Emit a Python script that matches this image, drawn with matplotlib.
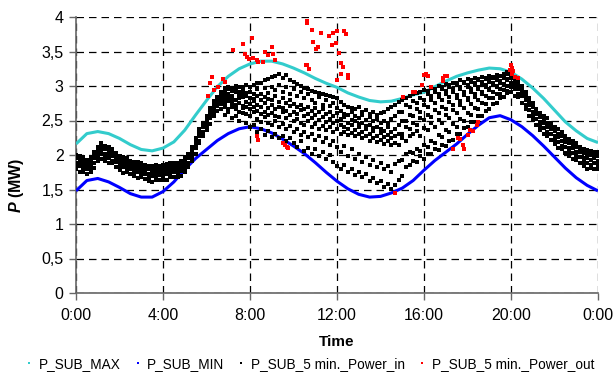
import numpy as np
import matplotlib
matplotlib.use("Agg")
import matplotlib.pyplot as plt
from matplotlib.lines import Line2D

plt.rcParams["font.family"] = ["Liberation Sans", "DejaVu Sans"]
plt.rcParams["mathtext.fontset"] = "custom"
plt.rcParams["mathtext.rm"] = "Liberation Sans"
plt.rcParams["mathtext.bf"] = "Liberation Sans:bold"
plt.rcParams["mathtext.bfit"] = "Liberation Sans:italic:bold"

_CYAN = "#33CCCC"
_BLUE = "#0000FF"
_RED = "#FF0000"

# P_SUB_MAX / P_SUB_MIN, every 30 min, MW
curve_hours = np.arange(0, 24.01, 0.5)
p_max = [2.16, 2.31, 2.34, 2.31, 2.24, 2.15, 2.08, 2.06, 2.10, 2.19,
         2.36, 2.58, 2.79, 2.99, 3.14, 3.25, 3.32, 3.36, 3.36, 3.32,
         3.26, 3.19, 3.11, 3.04, 2.98, 2.90, 2.84, 2.79, 2.77, 2.78,
         2.82, 2.87, 2.91, 2.99, 3.07, 3.14, 3.19, 3.23, 3.26, 3.25,
         3.20, 3.10, 2.97, 2.82, 2.65, 2.48, 2.35, 2.24, 2.18]
p_min = [1.48, 1.63, 1.66, 1.61, 1.53, 1.44, 1.39, 1.39, 1.47, 1.61,
         1.79, 1.95, 2.08, 2.21, 2.31, 2.38, 2.41, 2.38, 2.32, 2.23,
         2.13, 2.02, 1.89, 1.75, 1.62, 1.51, 1.43, 1.39, 1.40, 1.45,
         1.52, 1.63, 1.78, 1.92, 2.04, 2.16, 2.30, 2.43, 2.54, 2.57,
         2.51, 2.41, 2.28, 2.13, 1.97, 1.81, 1.67, 1.56, 1.48]

# P_SUB_5 min._Power_in, read per 10-minute column (several days overlaid)
in_hours = np.arange(0, 1441, 10) / 60
in_values = [
    # 0:00 - 6:40, narrow band
    [1.79, 1.84, 1.89, 1.95, 2.00], [1.76, 1.84, 1.90, 1.94, 1.99],
    [1.76, 1.80, 1.86, 1.92, 1.97], [1.73, 1.80, 1.86, 1.91, 1.93],
    [1.75, 1.80, 1.85, 1.91, 1.96], [1.81, 1.89, 1.95, 1.99, 2.04],
    [1.91, 1.95, 2.01, 2.07, 2.12], [1.94, 2.01, 2.07, 2.12, 2.17],
    [1.92, 1.97, 2.02, 2.08, 2.13], [1.88, 1.96, 2.02, 2.06, 2.11],
    [1.88, 1.92, 1.98, 2.04, 2.09], [1.83, 1.90, 1.96, 2.01, 2.03],
    [1.78, 1.83, 1.88, 1.94, 1.99], [1.74, 1.82, 1.88, 1.92, 1.97],
    [1.75, 1.79, 1.85, 1.91, 1.96], [1.72, 1.79, 1.85, 1.90, 1.92],
    [1.69, 1.74, 1.79, 1.85, 1.90], [1.67, 1.75, 1.81, 1.85, 1.90],
    [1.68, 1.72, 1.78, 1.84, 1.89], [1.65, 1.72, 1.78, 1.83, 1.85],
    [1.63, 1.68, 1.73, 1.79, 1.84], [1.61, 1.69, 1.75, 1.79, 1.84],
    [1.64, 1.68, 1.74, 1.80, 1.85], [1.64, 1.71, 1.77, 1.82, 1.84],
    [1.64, 1.69, 1.74, 1.80, 1.85], [1.64, 1.72, 1.78, 1.82, 1.87],
    [1.68, 1.72, 1.78, 1.84, 1.89], [1.68, 1.75, 1.81, 1.86, 1.88],
    [1.68, 1.73, 1.78, 1.84, 1.89], [1.69, 1.77, 1.83, 1.87, 1.92],
    [1.76, 1.80, 1.86, 1.92, 1.97], [1.82, 1.89, 1.95, 2.00, 2.02],
    [1.91, 1.96, 2.01, 2.07, 2.12], [2.02, 2.10, 2.16, 2.20, 2.25],
    [2.17, 2.21, 2.27, 2.33, 2.38], [2.27, 2.34, 2.40, 2.45, 2.47],
    [2.36, 2.41, 2.46, 2.52, 2.57], [2.45, 2.53, 2.59, 2.63, 2.68],
    [2.57, 2.61, 2.67, 2.73, 2.78], [2.64, 2.71, 2.77, 2.82, 2.84],
    [2.67, 2.74, 2.79, 2.86, 2.92],
    # 6:50 - 19:50, wide spread
    [2.58, 2.70, 2.76, 2.81, 2.87, 2.91, 2.97], [2.62, 2.67, 2.78, 2.83, 2.88, 2.95, 2.99],
    [2.53, 2.69, 2.74, 2.80, 2.86, 2.93, 2.97], [2.57, 2.66, 2.72, 2.79, 2.91, 2.96, 3.00],
    [2.50, 2.63, 2.75, 2.82, 2.88, 2.92, 2.98], [2.61, 2.68, 2.71, 2.84, 2.89, 2.94, 2.99],
    [2.47, 2.59, 2.70, 2.77, 2.85, 2.90, 3.01], [2.40, 2.57, 2.66, 2.74, 2.83, 2.92, 2.98],
    [2.44, 2.62, 2.69, 2.78, 2.81, 2.89, 3.02], [2.33, 2.52, 2.64, 2.72, 2.86, 2.95, 3.05],
    [2.38, 2.48, 2.60, 2.70, 2.79, 2.88, 3.04], [2.29, 2.55, 2.63, 2.76, 2.84, 2.97, 3.08],
    [2.35, 2.46, 2.58, 2.68, 2.81, 2.90, 3.10], [2.26, 2.43, 2.61, 2.73, 2.79, 2.99, 3.13],
    [2.31, 2.50, 2.57, 2.66, 2.85, 2.94, 3.15], [2.24, 2.40, 2.55, 2.70, 2.77, 3.02, 3.17],
    [2.28, 2.45, 2.62, 2.68, 2.83, 2.91, 3.12], [2.21, 2.37, 2.53, 2.64, 2.75, 2.98, 3.16],
    [2.25, 2.42, 2.58, 2.71, 2.80, 2.88, 3.09], [2.17, 2.33, 2.49, 2.62, 2.74, 2.95, 3.06],
    [2.12, 2.38, 2.52, 2.59, 2.69, 2.86, 3.03], [2.20, 2.29, 2.46, 2.65, 2.72, 2.91, 3.00],
    [2.06, 2.34, 2.43, 2.57, 2.67, 2.83, 2.97], [2.10, 2.26, 2.49, 2.60, 2.70, 2.89, 2.95],
    [2.02, 2.31, 2.41, 2.54, 2.64, 2.80, 2.93], [2.08, 2.22, 2.45, 2.58, 2.68, 2.76, 2.92],
    [1.98, 2.27, 2.38, 2.51, 2.62, 2.84, 2.90], [2.04, 2.19, 2.42, 2.55, 2.66, 2.73, 2.89],
    [1.94, 2.24, 2.36, 2.48, 2.60, 2.79, 2.87], [2.00, 2.15, 2.40, 2.52, 2.63, 2.71, 2.86],
    [1.90, 2.21, 2.33, 2.46, 2.57, 2.75, 2.84], [1.84, 2.11, 2.37, 2.49, 2.61, 2.68, 2.82],
    [1.80, 2.05, 2.31, 2.43, 2.52, 2.64, 2.77], [1.86, 2.13, 2.34, 2.41, 2.55, 2.60, 2.72],
    [1.75, 1.98, 2.29, 2.38, 2.47, 2.58, 2.70], [1.79, 2.08, 2.32, 2.44, 2.51, 2.62, 2.68],
    [1.71, 1.94, 2.27, 2.36, 2.49, 2.56, 2.66], [1.76, 2.02, 2.30, 2.40, 2.45, 2.53, 2.69],
    [1.68, 1.90, 2.24, 2.33, 2.47, 2.58, 2.63], [1.72, 1.97, 2.28, 2.37, 2.42, 2.51, 2.65],
    [1.63, 1.86, 2.21, 2.31, 2.44, 2.55, 2.60], [1.67, 1.93, 2.25, 2.35, 2.39, 2.49, 2.62],
    [1.59, 1.82, 2.19, 2.28, 2.41, 2.52, 2.58], [1.62, 1.88, 2.22, 2.32, 2.37, 2.46, 2.61],
    [1.54, 1.79, 2.16, 2.26, 2.35, 2.50, 2.63], [1.58, 1.84, 2.20, 2.29, 2.40, 2.47, 2.66],
    [1.51, 1.76, 2.14, 2.24, 2.33, 2.52, 2.69], [1.57, 1.87, 2.18, 2.27, 2.38, 2.57, 2.73],
    [1.64, 1.92, 2.15, 2.30, 2.43, 2.62, 2.77],
    [1.70, 1.93, 2.24, 2.31, 2.50, 2.63, 2.80], [1.82, 2.01, 2.21, 2.40, 2.49, 2.72, 2.83],
    [1.85, 2.05, 2.27, 2.38, 2.58, 2.69, 2.86], [1.92, 2.03, 2.30, 2.47, 2.57, 2.78, 2.88],
    [1.90, 2.09, 2.35, 2.44, 2.66, 2.75, 2.90], [1.98, 2.06, 2.28, 2.53, 2.63, 2.83, 2.91],
    [1.94, 2.15, 2.39, 2.51, 2.73, 2.80, 2.94], [2.02, 2.12, 2.36, 2.58, 2.70, 2.88, 2.93],
    [2.01, 2.21, 2.46, 2.55, 2.79, 2.85, 2.97], [2.08, 2.18, 2.40, 2.65, 2.75, 2.92, 2.96],
    [2.07, 2.29, 2.51, 2.61, 2.84, 2.89, 3.00], [2.14, 2.26, 2.47, 2.70, 2.80, 2.95, 2.99],
    [2.13, 2.36, 2.58, 2.67, 2.88, 2.93, 3.03], [2.21, 2.33, 2.54, 2.77, 2.84, 2.99, 3.02],
    [2.22, 2.45, 2.65, 2.72, 2.92, 2.96, 3.05], [2.30, 2.41, 2.61, 2.82, 2.87, 3.02, 3.04],
    [2.30, 2.52, 2.72, 2.78, 2.95, 2.99, 3.08], [2.39, 2.49, 2.68, 2.87, 2.91, 3.04, 3.06],
    [2.40, 2.61, 2.79, 2.83, 2.98, 3.02, 3.10], [2.48, 2.58, 2.74, 2.92, 2.95, 3.06, 3.08],
    [2.48, 2.68, 2.84, 2.88, 3.01, 3.04, 3.11], [2.56, 2.66, 2.80, 2.95, 2.98, 3.08, 3.10],
    [2.57, 2.76, 2.89, 2.92, 3.03, 3.06, 3.13], [2.64, 2.74, 2.86, 2.99, 3.01, 3.10, 3.12],
    [2.66, 2.83, 2.94, 2.96, 3.06, 3.08, 3.14], [2.74, 2.82, 2.91, 3.02, 3.04, 3.12, 3.13],
    [2.75, 2.89, 2.98, 3.00, 3.09, 3.11, 3.16], [2.82, 2.88, 2.95, 3.05, 3.07, 3.14, 3.15],
    [2.84, 2.94, 3.01, 3.03, 3.11, 3.13, 3.18], [2.90, 2.93, 3.00, 3.08, 3.10, 3.17, 3.20],
    # 20:00 - 24:00, narrow band
    [2.92, 2.98, 3.04, 3.11, 3.17, 3.23], [2.86, 2.95, 3.02, 3.07, 3.13],
    [2.84, 2.89, 2.96, 3.03, 3.09], [2.76, 2.85, 2.92, 2.97, 3.00],
    [2.67, 2.73, 2.79, 2.86, 2.92], [2.56, 2.65, 2.72, 2.77, 2.83],
    [2.51, 2.56, 2.63, 2.70, 2.76], [2.43, 2.52, 2.59, 2.64, 2.67],
    [2.36, 2.42, 2.48, 2.55, 2.61], [2.30, 2.39, 2.46, 2.51, 2.57],
    [2.28, 2.33, 2.40, 2.47, 2.53], [2.22, 2.31, 2.38, 2.43, 2.46],
    [2.16, 2.22, 2.28, 2.35, 2.41], [2.10, 2.19, 2.26, 2.31, 2.37],
    [2.08, 2.13, 2.20, 2.27, 2.33], [2.03, 2.12, 2.19, 2.24, 2.27],
    [1.98, 2.04, 2.10, 2.17, 2.23], [1.94, 2.03, 2.10, 2.15, 2.21],
    [1.93, 1.98, 2.05, 2.12, 2.18], [1.88, 1.97, 2.04, 2.09, 2.12],
    [1.84, 1.90, 1.96, 2.03, 2.09], [1.80, 1.89, 1.96, 2.01, 2.07],
    [1.81, 1.86, 1.93, 2.00, 2.06], [1.80, 1.89, 1.96, 2.01, 2.04],
    [1.80, 1.86, 1.92, 1.99, 2.05],
]

# P_SUB_5 min._Power_out
out_hours = [6.08, 6.16, 6.24, 6.34, 6.54, 6.77, 6.85,
             7.23, 7.66, 7.77, 8.08, 7.97, 8.15, 8.38, 8.58, 8.69, 8.84,
             9.00, 9.07, 9.15, 7.85, 8.30, 8.31, 8.36, 9.53, 9.60, 9.69, 9.76,
             10.57, 10.62, 10.73, 10.60, 10.64, 10.84, 10.91, 11.03, 11.14,
             11.25, 11.65, 11.76, 11.83, 11.95, 12.01, 12.32, 12.41, 12.10,
             12.17, 12.26, 12.17, 12.52, 12.52, 12.01,
             14.67, 15.05, 15.50, 15.60, 15.89, 16.00, 16.10, 16.20, 16.30,
             16.86, 16.89, 16.97, 17.05,
             17.35, 17.58, 17.65, 17.78, 17.84, 18.04, 18.10, 18.26, 18.42, 18.50,
             19.95, 20.03, 20.10, 20.05, 20.20, 20.34, 20.00]
out_values = [2.86, 3.04, 3.13, 2.94, 2.99, 3.10, 3.06,
              3.52, 3.61, 3.47, 3.69, 3.39, 3.40, 3.35, 3.35, 3.50, 3.45,
              3.57, 3.47, 3.38, 3.42, 3.38, 2.27, 2.22, 2.17, 2.14, 2.12, 2.10,
              3.30, 3.31, 3.24, 3.91, 3.94, 3.81, 3.64, 3.53, 3.56,
              3.77, 3.72, 3.59, 3.77, 3.62, 3.79, 3.79, 3.75, 3.48,
              3.33, 3.27, 3.18, 3.16, 3.11, 3.08,
              1.45, 2.84, 2.92, 2.91, 3.01, 3.16, 3.17, 3.14, 2.99,
              3.07, 3.11, 3.14, 3.15,
              2.08, 2.24, 2.23, 2.14, 2.08, 2.29, 2.36, 2.35, 2.43, 2.48,
              3.23, 3.26, 3.22, 3.17, 3.13, 3.11, 3.30]

x_ticks = [0, 4, 8, 12, 16, 20, 24]
x_tick_labels = ["0:00", "4:00", "8:00", "12:00", "16:00", "20:00", "0:00"]
y_ticks = [0, 0.5, 1, 1.5, 2, 2.5, 3, 3.5, 4]
y_tick_labels = ["0", "0,5", "1", "1,5", "2", "2,5", "3", "3,5", "4"]

labels = ["P_SUB_MAX", "P_SUB_MIN", "P_SUB_5 min._Power_in", "P_SUB_5 min._Power_out"]


fig = plt.figure(figsize=(6.14, 3.74), dpi=100)
ax = fig.add_axes([76 / 614, 1 - 293 / 374, 522 / 614, 276 / 374])

ax.plot(curve_hours, p_max, color=_CYAN, lw=2.2, solid_capstyle="butt", zorder=3)
ax.plot(curve_hours, p_min, color=_BLUE, lw=2.2, solid_capstyle="butt", zorder=3)

in_x = np.concatenate([[h] * len(v) for h, v in zip(in_hours, in_values)])
in_y = np.concatenate(in_values)
ax.plot(in_x, in_y, ls="none", marker="s", ms=2.2, mew=0, color="black", zorder=4)
ax.plot(out_hours, out_values, ls="none", marker="s", ms=2.3, mew=0, color=_RED, zorder=5)

ax.set_xlim(0, 24)
ax.set_ylim(0, 4)
ax.set_xticks(x_ticks)
ax.set_xticklabels(x_tick_labels)
ax.set_yticks(y_ticks)
ax.set_yticklabels(y_tick_labels)
ax.tick_params(axis="both", direction="out", length=5, width=1, color="#666666",
               labelsize=11.5, pad=4)
ax.tick_params(axis="x", pad=6)

ax.grid(True, color="black", linestyle=(0, (6, 4)), linewidth=0.9)
ax.set_axisbelow(True)
for side in ("top", "right"):
    ax.spines[side].set_visible(False)
for side in ("left", "bottom"):
    ax.spines[side].set_color("#666666")
    ax.spines[side].set_linewidth(1.2)

ax.set_xlabel("Time", fontsize=11, fontweight="bold")
ax.xaxis.set_label_coords(0.5, -0.152)
ax.set_ylabel(r"$\mathbfit{P}$ (MW)", fontsize=11.5, fontweight="bold")
ax.yaxis.set_label_coords(-0.095, 0.39)

handles = [Line2D([], [], ls="none", marker="s", ms=1.8, mew=0, color=c)
           for c in (_CYAN, _BLUE, "black", _RED)]
fig.legend(handles, labels, ncol=4, loc="center", bbox_to_anchor=(0.503, 1 - 364 / 374),
           frameon=False, fontsize=9.8, handlelength=0.8, handletextpad=0.3,
           columnspacing=0.85, borderpad=0.1)

fig.savefig("out.png", dpi=100)
